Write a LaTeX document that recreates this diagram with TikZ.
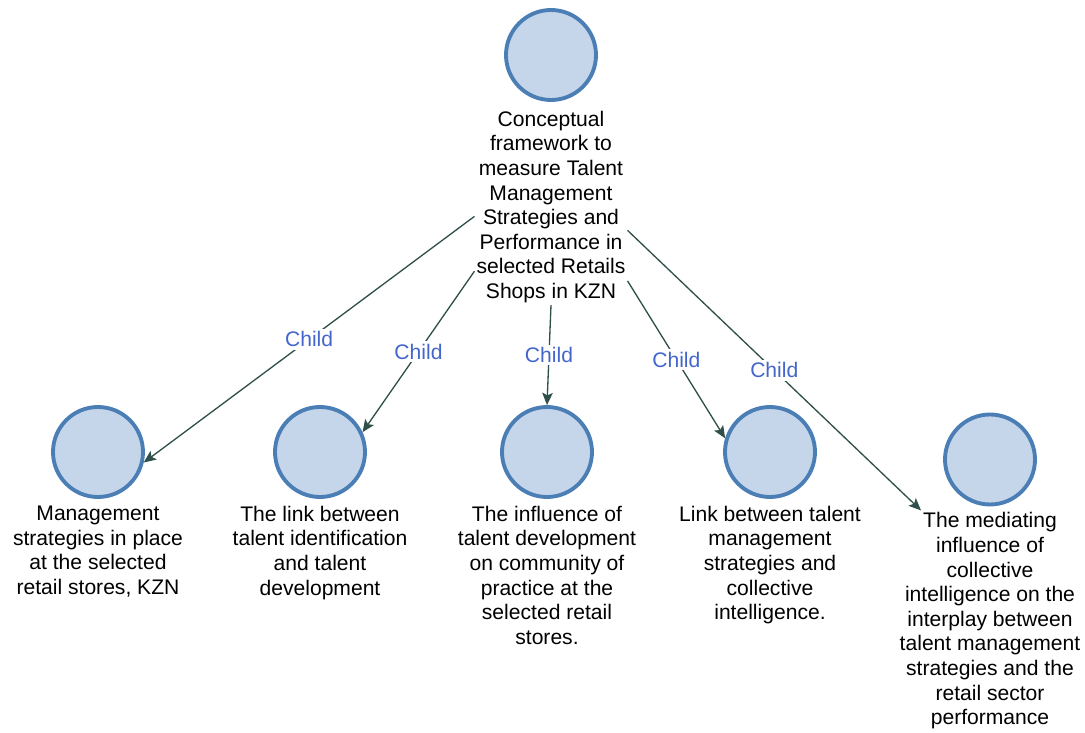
\documentclass[tikz,border=0pt]{standalone}
\usepackage{fontspec}
\setmainfont{Liberation Sans}
\usepackage{xcolor}
\usetikzlibrary{arrows.meta,positioning}

\definecolor{nodefill}{RGB}{197,214,234}
\definecolor{nodeline}{RGB}{74,126,181}
\definecolor{edgecol}{RGB}{47,79,74}
\definecolor{labcol}{RGB}{68,102,204}

\begin{document}
\begin{tikzpicture}[>={Stealth[length=7pt,width=6pt,inset=1.5pt]},
 font=\fontsize{12}{14}\selectfont,
 topic/.style={circle,draw=nodeline,fill=nodefill,line width=2.2pt,minimum size=1.8cm,inner sep=0pt},
 txt/.style={align=center,inner sep=1pt},
 link/.style={->,draw=edgecol,line width=0.75pt},
 lab/.style={text=labcol,fill=white,inner sep=1.5pt}]
\useasboundingbox (0,0) rectangle (21.7,14.66);
% main topic
\node[topic] (root) at (11.02,13.56) {};
\node[txt,below=0.14cm of root] (rt) {Conceptual\\framework to\\measure Talent\\Management\\Strategies and\\Performance in\\selected Retails\\Shops in KZN};
% sub-topics
\node[topic] (c1) at (1.96,5.62) {};
\node[txt,below=0.1cm of c1] (t1) {Management\\strategies in place\\at the selected\\retail stores, KZN};
\node[topic] (c2) at (6.40,5.62) {};
\node[txt,below=0.1cm of c2] (t2) {The link between\\talent identification\\and talent\\development};
\node[topic] (c3) at (10.94,5.62) {};
\node[txt,below=0.1cm of c3] (t3) {The influence of\\talent development\\on community of\\practice at the\\selected retail\\stores.};
\node[topic] (c4) at (15.40,5.62) {};
\node[txt,below=0.1cm of c4] (t4) {Link between talent\\management\\strategies and\\collective\\intelligence.};
\node[topic] (c5) at (19.80,5.47) {};
\node[txt,below=0.08cm of c5] (t5) {The mediating\\influence of\\collective\\intelligence on the\\interplay between\\talent management\\strategies and the\\retail sector\\performance};
% links
\draw[link] (rt.187) -- node[lab] {Child} (c1.-13);
\draw[link] (rt.220) -- node[lab] {Child} (c2.25);
\draw[link] (rt.south) -- node[lab] {Child} (c3.north);
\draw[link] (rt.-44) -- node[lab] {Child} (c4.163);
\draw[link] (rt.-17) -- node[lab] {Child} (t5.122);
\end{tikzpicture}
\end{document}
